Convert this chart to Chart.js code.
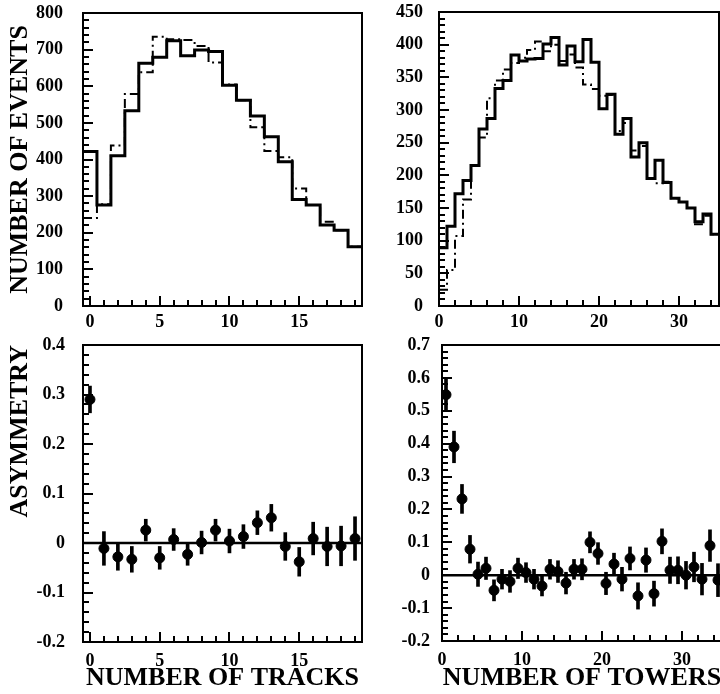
<!DOCTYPE html>
<html>
<head>
<meta charset="utf-8">
<script src="https://cdn.jsdelivr.net/npm/chart.js@4.4.1/dist/chart.umd.min.js"></script>
<style>
  html, body { margin: 0; padding: 0; background: #fff; width: 720px; height: 694px; overflow: hidden; }
  canvas { position: absolute; }
</style>
</head>
<body>
<canvas id="events-tracks" width="375" height="330" style="left:0;top:0"></canvas>
<canvas id="events-towers" width="350" height="330" style="left:375px;top:0"></canvas>
<canvas id="asym-tracks" width="375" height="364" style="left:0;top:330px"></canvas>
<canvas id="asym-towers" width="350" height="364" style="left:378px;top:330px"></canvas>
<script>
// bins
var trackBins = [0, 1, 2, 3, 4, 5, 6, 7, 8, 9, 10, 11, 12, 13, 14, 15, 16, 17, 18, 19];
var towerBins = [0, 1, 2, 3, 4, 5, 6, 7, 8, 9, 10, 11, 12, 13, 14, 15, 16, 17, 18, 19,
                 20, 21, 22, 23, 24, 25, 26, 27, 28, 29, 30, 31, 32, 33, 34];

// number of events, solid and dash-dot histograms
var tracksSolid  = [422, 276, 410, 533, 663, 679, 724, 683, 699, 695, 603, 562, 519, 462, 394, 291, 276, 221, 207, 162];
var tracksDashed = [240, 278, 438, 579, 638, 735, 728, 726, 710, 665, 605, 562, 488, 423, 406, 321, 276, 230, 207, 162];
var towersSolid  = [89, 122, 172, 192, 215, 271, 287, 333, 345, 384, 375, 378, 379, 401, 411, 369, 398,
                    374, 408, 373, 302, 324, 263, 287, 228, 250, 195, 223, 189, 165, 159, 150, 129, 141, 110];
var towersDashed = [25, 55, 107, 163, 215, 258, 318, 345, 362, 372, 380, 392, 405, 390, 400, 375, 385,
                    365, 339, 332, 322, 323, 268, 280, 238, 245, 195, 188, 190, 165, 159, 150, 125, 138, 110];

// asymmetry and errors
var tracksAsym = [0.290, -0.011, -0.028, -0.033, 0.026, -0.030, 0.007, -0.023, 0.001, 0.026,
                  0.004, 0.013, 0.041, 0.051, -0.007, -0.038, 0.009, -0.007, -0.006, 0.009];
var tracksErr  = [0.027, 0.034, 0.027, 0.026, 0.022, 0.023, 0.022, 0.022, 0.023, 0.022,
                  0.024, 0.024, 0.024, 0.027, 0.028, 0.029, 0.033, 0.039, 0.040, 0.044];
var towersAsym = [0.549, 0.390, 0.232, 0.079, 0.003, 0.021, -0.046, -0.012, -0.019, 0.021, 0.008, -0.012,
                  -0.033, 0.018, 0.011, -0.024, 0.018, 0.018, 0.100, 0.066, -0.025, 0.034, -0.012, 0.051,
                  -0.063, 0.046, -0.056, 0.103, 0.015, 0.015, 0.000, 0.025, -0.012, 0.090, -0.015];
var towersErr  = [0.050, 0.048, 0.044, 0.042, 0.037, 0.034, 0.032, 0.030, 0.033, 0.031, 0.030, 0.030,
                  0.030, 0.030, 0.033, 0.033, 0.030, 0.032, 0.032, 0.033, 0.034, 0.033, 0.036, 0.035,
                  0.040, 0.037, 0.038, 0.038, 0.040, 0.041, 0.042, 0.045, 0.048, 0.048, 0.050];

// tick labels
var tracksTicks = [0, 5, 10, 15];
var towersTicks = [0, 10, 20, 30];
var eventsTracksTicks = [0, 100, 200, 300, 400, 500, 600, 700, 800];
var eventsTowersTicks = [0, 50, 100, 150, 200, 250, 300, 350, 400, 450];
var asymTracksTicks = [-0.2, -0.1, 0, 0.1, 0.2, 0.3, 0.4];
var asymTowersTicks = [-0.2, -0.1, 0, 0.1, 0.2, 0.3, 0.4, 0.5, 0.6, 0.7];

Chart.defaults.font.family = '"Liberation Serif", "Times New Roman", serif';
Chart.defaults.font.weight = 'bold';
Chart.defaults.color = '#000';

// box frame with inward minor/major ticks on bottom and left, drawn last
function frameTicks(o) {
    return {
        id: 'frameTicks',
        afterDraw: function (chart) {
            var ctx = chart.ctx, a = chart.chartArea;
            var xs = chart.scales.x, ys = chart.scales.y;
            ctx.save();
            ctx.setLineDash([]);
            ctx.strokeStyle = '#000';
            ctx.lineWidth = 2;
            ctx.strokeRect(a.left, a.top, a.right - a.left, a.bottom - a.top);
            var k, v, px, major;
            for (k = Math.ceil(xs.min / o.xMinor - 1e-6); k * o.xMinor <= xs.max + 1e-6; k++) {
                v = k * o.xMinor;
                major = Math.abs(v / o.xMajor - Math.round(v / o.xMajor)) < 1e-6;
                px = Math.round(xs.getPixelForValue(v));
                ctx.fillRect(px - 1, a.bottom - (major ? 10 : 6), 2, major ? 10 : 6);
            }
            for (k = Math.ceil(ys.min / o.yMinor - 1e-6); k * o.yMinor <= ys.max + 1e-6; k++) {
                v = k * o.yMinor;
                major = Math.abs(v / o.yMajor - Math.round(v / o.yMajor)) < 1e-6;
                px = Math.round(ys.getPixelForValue(v));
                ctx.fillRect(a.left, px - 1, major ? 10 : 6, 2);
            }
            ctx.restore();
        }
    };
}

function setTicks(values) {
    return function (scale) {
        scale.ticks = values.map(function (v) { return { value: v }; });
    };
}

// gap between axis and labels goes in tickLength (grid hidden) so it does not pad the chart area
function xAxis(min, max, ticks, height, gap, title) {
    return {
        type: 'linear', min: min, max: max, offset: false,
        grid: { display: false, drawTicks: true, tickLength: gap }, border: { display: false },
        afterBuildTicks: setTicks(ticks),
        afterFit: function (s) { s.height = height; },
        ticks: { padding: 0, maxRotation: 0, autoSkip: false, font: { size: 18, weight: 'bold' },
                 callback: function (v) { return String(v); } },
        title: title ? { display: true, text: title, font: { size: 26, weight: 'bold' },
                         padding: { top: 0, bottom: 0 } } : { display: false }
    };
}

function yAxis(min, max, ticks, width, gap, title, align) {
    return {
        type: 'linear', min: min, max: max,
        grid: { display: false, drawTicks: true, tickLength: gap }, border: { display: false },
        afterBuildTicks: setTicks(ticks),
        afterFit: function (s) { s.width = width; },
        ticks: { padding: 0, autoSkip: false, font: { size: 18, weight: 'bold' },
                 callback: function (v) { return String(v); } },
        title: title ? { display: true, text: title, align: align || 'center',
                         font: { size: 26, weight: 'bold' }, padding: { top: 5, bottom: 0 } } : { display: false }
    };
}

function histPoints(bins, vals, lo) {
    var pts = bins.map(function (b, i) { return { x: b + lo, y: vals[i] }; });
    pts.push({ x: bins[bins.length - 1] + lo + 1, y: vals[vals.length - 1] });
    return pts;
}

function histDatasets(bins, solid, dashed, lo) {
    return [{
        data: histPoints(bins, dashed, lo), stepped: true,
        borderColor: '#000', borderWidth: 2, borderDash: [9, 4, 2, 4], pointRadius: 0
    }, {
        data: histPoints(bins, solid, lo), stepped: true,
        borderColor: '#000', borderWidth: 3, pointRadius: 0
    }];
}

function asymDatasets(bins, vals, errs, off, xmin, xmax) {
    return [{
        data: [{ x: xmin, y: 0 }, { x: xmax, y: 0 }],
        borderColor: '#000', borderWidth: 2.5, pointRadius: 0
    }, {
        type: 'bar',
        data: bins.map(function (b, i) { return { x: b + off, y: [vals[i] - errs[i], vals[i] + errs[i]] }; }),
        backgroundColor: '#000', borderWidth: 0, barThickness: 3
    }, {
        data: bins.map(function (b, i) { return { x: b + off, y: vals[i] }; }),
        showLine: false, pointStyle: 'circle', pointRadius: 5,
        pointBackgroundColor: '#000', pointBorderColor: '#000'
    }];
}

var noPlugins = { legend: { display: false }, tooltip: { enabled: false } };

new Chart(document.getElementById('events-tracks'), {
    type: 'line',
    data: { datasets: histDatasets(trackBins, tracksSolid, tracksDashed, -0.5) },
    options: {
        responsive: false, animation: false,
        layout: { padding: { top: 13, right: 13, left: 0, bottom: 0 } },
        scales: {
            x: xAxis(-0.5, 19.5, tracksTicks, 24, 6),
            y: yAxis(0, 800, eventsTracksTicks, 83, 20, 'NUMBER OF EVENTS')
        },
        plugins: noPlugins
    },
    plugins: [frameTicks({ xMinor: 1, xMajor: 5, yMinor: 20, yMajor: 100 })]
});

new Chart(document.getElementById('events-towers'), {
    type: 'line',
    data: { datasets: histDatasets(towerBins, towersSolid, towersDashed, 0) },
    options: {
        responsive: false, animation: false,
        layout: { padding: { top: 12, right: 6, left: 0, bottom: 0 } },
        scales: {
            x: xAxis(0, 35, towersTicks, 24, 6),
            y: yAxis(0, 450, eventsTowersTicks, 64, 16)
        },
        plugins: noPlugins
    },
    plugins: [frameTicks({ xMinor: 2, xMajor: 10, yMinor: 10, yMajor: 50 })]
});

new Chart(document.getElementById('asym-tracks'), {
    type: 'line',
    data: { datasets: asymDatasets(trackBins, tracksAsym, tracksErr, 0, -0.5, 19.5) },
    options: {
        responsive: false, animation: false,
        layout: { padding: { top: 15, right: 13, left: 0, bottom: 0 } },
        scales: {
            x: xAxis(-0.5, 19.5, tracksTicks, 52, 9, 'NUMBER OF TRACKS'),
            y: yAxis(-0.2, 0.4, asymTracksTicks, 83, 18, 'ASYMMETRY', 'end')
        },
        plugins: noPlugins
    },
    plugins: [frameTicks({ xMinor: 1, xMajor: 5, yMinor: 0.02, yMajor: 0.1 })]
});

new Chart(document.getElementById('asym-towers'), {
    type: 'line',
    data: { datasets: asymDatasets(towerBins, towersAsym, towersErr, 0.5, 0, 35) },
    options: {
        responsive: false, animation: false,
        layout: { padding: { top: 15, right: 6, left: 0, bottom: 0 } },
        scales: {
            x: xAxis(0, 35, towersTicks, 53, 9, 'NUMBER OF TOWERS'),
            y: yAxis(-0.2, 0.7, asymTowersTicks, 64, 12)
        },
        plugins: noPlugins
    },
    plugins: [frameTicks({ xMinor: 2, xMajor: 10, yMinor: 0.02, yMajor: 0.1 })]
});
</script>
</body>
</html>
